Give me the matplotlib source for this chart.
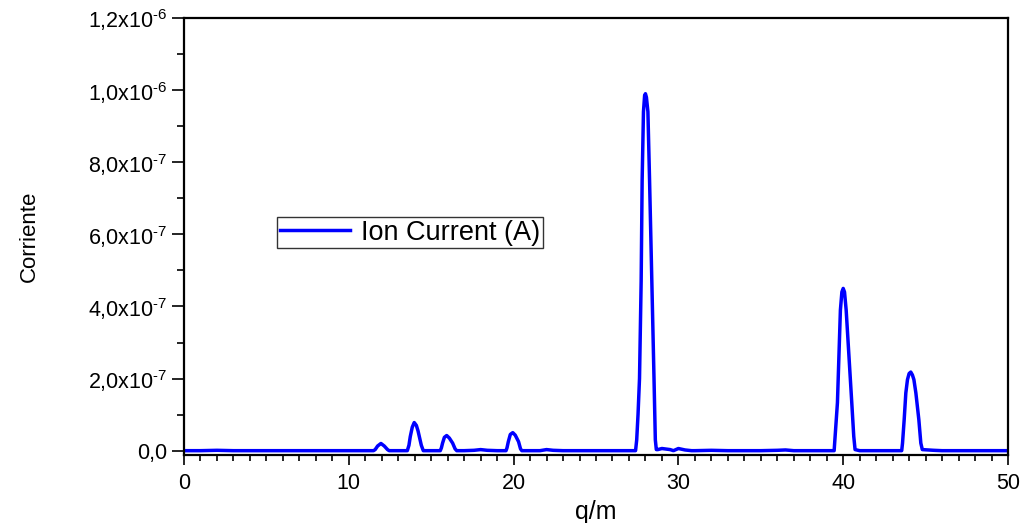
import matplotlib
matplotlib.use('Agg')
import matplotlib.pyplot as plt
from matplotlib.ticker import MultipleLocator, FixedLocator

plt.rcParams['font.family'] = ['Liberation Sans', 'DejaVu Sans']
plt.rcParams['mathtext.fontset'] = 'custom'
plt.rcParams['mathtext.rm'] = 'Liberation Sans'
plt.rcParams['mathtext.default'] = 'regular'

# Spectrum: q/m and current in units of 1e-7 A
qm = [0, 1, 2, 3, 4, 5, 6, 7, 8, 9, 10, 11, 11.5,
      11.6, 11.75, 11.95, 12.15, 12.35, 12.45, 13.0, 13.55,
      13.65, 13.73, 13.85, 13.97, 14.1, 14.2, 14.28, 14.4, 14.52, 15.0, 15.55,
      15.62, 15.69, 15.8, 15.94, 16.1, 16.3, 16.45, 16.55, 17.0, 17.6, 18.0, 18.4, 19.0, 19.54,
      19.6, 19.68, 19.8, 19.95, 20.1, 20.3, 20.42, 20.5, 21.0, 21.6, 22.0, 22.4, 23, 24, 25, 26, 27, 27.4,
      27.47, 27.55, 27.64, 27.74, 27.80, 27.88, 27.95, 28.0, 28.06, 28.15, 28.25, 28.39, 28.52, 28.6, 28.66,
      28.75, 29.0, 29.5, 29.7, 30.0, 30.4, 30.8, 31, 32, 33, 34, 35, 36, 36.5, 37, 38, 39, 39.45,
      39.51, 39.65, 39.75, 39.83, 39.92, 40.0, 40.08, 40.18, 40.34, 40.52, 40.64, 40.72,
      41, 42, 43, 43.55,
      43.6, 43.7, 43.8, 43.9, 44.0, 44.1, 44.2, 44.29, 44.41, 44.59, 44.71, 44.8,
      45.5, 46, 47, 48, 49, 50]
current_e7 = [0, 0, 0.01, 0, 0, 0, 0, 0, 0, 0, 0, 0, 0,
              0.03, 0.13, 0.2, 0.13, 0.03, 0, 0, 0,
              0.15, 0.39, 0.65, 0.78, 0.7, 0.55, 0.39, 0.15, 0, 0, 0,
              0.08, 0.21, 0.37, 0.42, 0.35, 0.21, 0.05, 0, 0, 0.01, 0.03, 0.01, 0, 0,
              0.08, 0.25, 0.45, 0.5, 0.43, 0.25, 0.05, 0, 0, 0, 0.03, 0.01, 0, 0, 0, 0, 0, 0,
              0.3, 1.0, 2.0, 4.7, 7.5, 9.4, 9.85, 9.9, 9.8, 9.4, 7.5, 4.7, 2.0, 0.3, 0.03,
              0.03, 0.06, 0.03, 0.0, 0.06, 0.02, 0, 0, 0.01, 0, 0, 0, 0.01, 0.02, 0, 0, 0, 0,
              0.4, 1.33, 2.71, 3.9, 4.4, 4.5, 4.4, 3.9, 2.71, 1.33, 0.4, 0.03,
              0, 0, 0, 0,
              0.21, 0.86, 1.6, 1.97, 2.14, 2.18, 2.1, 1.97, 1.6, 0.86, 0.21, 0.03,
              0.01, 0, 0, 0, 0, 0]

ytick_values = [0, 2e-7, 4e-7, 6e-7, 8e-7, 1.0e-6, 1.2e-6]
ytick_labels = ['0,0', r'2,0x10$^{\text{-}7}$', r'4,0x10$^{\text{-}7}$', r'6,0x10$^{\text{-}7}$',
                r'8,0x10$^{\text{-}7}$', r'1,0x10$^{\text{-}6}$', r'1,2x10$^{\text{-}6}$']

current = [v * 1e-7 for v in current_e7]

fig = plt.figure(figsize=(10.23, 5.23), dpi=100)
ax = fig.add_axes([184 / 1023, 1 - 455 / 523, 824 / 1023, 437 / 523])

ax.plot(qm, current, color='#0000ff', lw=2.5, label='Ion Current (A)')

ax.set_xlim(0, 50)
ax.set_ylim(-1.2e-8, 1.2e-6)
ax.xaxis.set_major_locator(MultipleLocator(10))
ax.xaxis.set_minor_locator(MultipleLocator(1))
ax.yaxis.set_major_locator(FixedLocator(ytick_values))
ax.yaxis.set_minor_locator(MultipleLocator(1e-7))
ax.set_yticklabels(ytick_labels)

ax.tick_params(axis='both', which='both', direction='out', top=False, right=False,
               labelsize=15.5, width=1.2, colors='black')
ax.tick_params(axis='y', which='major', length=9, pad=3)
ax.tick_params(axis='y', which='minor', length=5)
ax.tick_params(axis='x', which='major', length=7, pad=6)
ax.tick_params(axis='x', which='minor', length=4)
for s in ax.spines.values():
    s.set_linewidth(1.6)

ax.set_xlabel('q/m', fontsize=18, labelpad=4)
ax.set_ylabel('Corriente', fontsize=16)
ax.yaxis.set_label_coords(-0.175, 0.5)

leg = ax.legend(loc='upper left', bbox_to_anchor=(0.113, 0.545), fontsize=19.5,
                frameon=True, fancybox=False, handlelength=2.6, borderpad=0.1,
                handletextpad=0.4, borderaxespad=0)
leg.get_frame().set_edgecolor('black')
leg.get_frame().set_linewidth(1.0)

fig.savefig('out.png', dpi=100)
